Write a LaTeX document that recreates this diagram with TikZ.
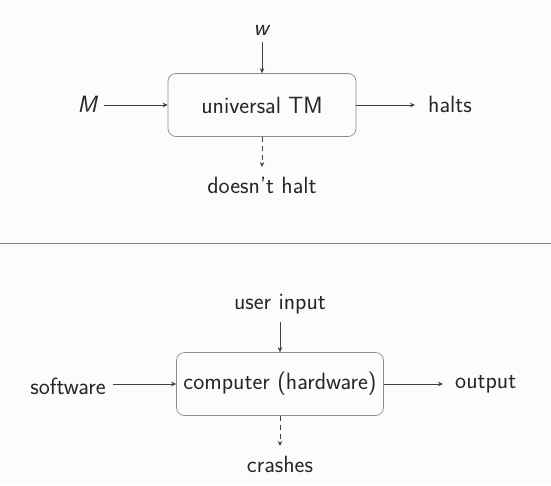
\documentclass[tikz,border=0pt]{standalone}
\usetikzlibrary{arrows.meta}
\renewcommand{\familydefault}{\sfdefault}
\begin{document}
\begin{tikzpicture}[x=1pt,y=-1pt,
  txt/.style={font=\fontsize{23.5}{27}\selectfont\sffamily, text=black!85, inner sep=0pt},
  boxnode/.style={txt, draw=black!45, rounded corners=8pt, line width=0.7pt},
  arr/.style={draw=black!75, line width=0.7pt, -{Stealth[length=5pt,width=4.5pt]}},
  darr/.style={arr, dash pattern=on 5pt off 4pt}]
\fill[black!1] (0,0) rectangle (551,485);
\useasboundingbox (0,0) rectangle (551,485);
% top diagram
\node[boxnode, minimum width=188pt, minimum height=63pt] (utm) at (262,105) {universal TM};
\node[txt] (w) at (262,30) {\textit{w}};
\node[txt] (M) at (88,104) {\textit{M}};
\node[txt, anchor=west] (halts) at (428,104) {halts};
\node[txt] (dh) at (262,185) {doesn't halt};
\coordinate (wend) at (262,42);
\coordinate (Mend) at (104,105);
\coordinate (hend) at (415,105);
\coordinate (dend) at (262,167);
\draw[arr] (wend) -- (utm.north);
\draw[arr] (Mend) -- (utm.west);
\draw[arr] (utm.east) -- (hend);
\draw[darr] (utm.south) -- (dend);
% separator
\coordinate (sl) at (0,243);
\coordinate (sr) at (551,243);
\draw[black!50, line width=1pt] (sl) -- (sr);
% bottom diagram
\node[boxnode, minimum width=207pt, minimum height=63pt] (comp) at (280,384) {computer (hardware)};
\node[txt] (ui) at (280,304) {user input};
\node[txt] (sw) at (68,386) {software};
\node[txt, anchor=west] (out) at (455,384) {output};
\node[txt] (cr) at (280,464) {crashes};
\coordinate (uiend) at (280,322);
\coordinate (swend) at (113,384);
\coordinate (oend) at (443,384);
\coordinate (cend) at (280,446);
\draw[arr] (uiend) -- (comp.north);
\draw[arr] (swend) -- (comp.west);
\draw[arr] (comp.east) -- (oend);
\draw[darr] (comp.south) -- (cend);
\end{tikzpicture}
\end{document}
